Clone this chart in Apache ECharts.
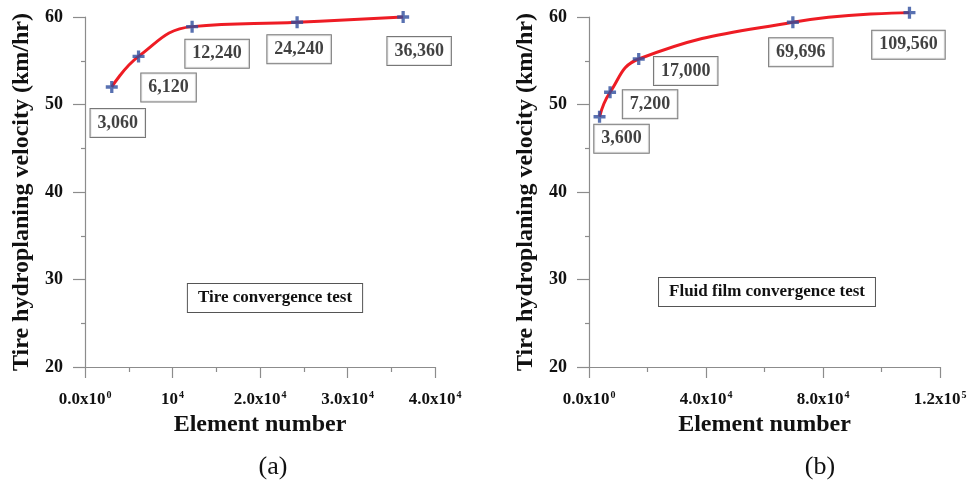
<!DOCTYPE html>
<html>
<head>
<meta charset="utf-8">
<style>
html,body{margin:0;padding:0;background:#fff;}
#chart{width:973px;height:487px;}
</style>
<script src="https://cdn.jsdelivr.net/npm/echarts@6/dist/echarts.min.js"></script>
</head>
<body>
<div id="chart"></div>
<script>
// ---------- data ----------
const tireElements = [3060, 6120, 12240, 24240, 36360];
const tireVelocity = [52.0, 55.5, 58.9, 59.4, 60.0];
const fluidElements = [3600, 7200, 17000, 69696, 109560];
const fluidVelocity = [48.6, 51.4, 55.2, 59.4, 60.5];

const yTicks = [20, 30, 40, 50, 60];
const xTicksA = [0, 10000, 20000, 30000, 40000];
const xTickLabelsA = ['0.0x10^0', '10^4', '2.0x10^4', '3.0x10^4', '4.0x10^4'];
const xTicksB = [0, 40000, 80000, 120000];
const xTickLabelsB = ['0.0x10^0', '4.0x10^4', '8.0x10^4', '1.2x10^5'];

const yAxisTitle = 'Tire hydroplaning velocity (km/hr)';
const xAxisTitle = 'Element number';
const noteA = 'Tire convergence test';
const noteB = 'Fluid film convergence test';
const panelA = '(a)';
const panelB = '(b)';

// ---------- style / layout ----------
const labelOffsetsA = [[6, 36], [30, 31], [25, 27], [2, 27], [16, 34]];
const labelOffsetsB = [[22, 22], [40, 12], [47, 12], [8, 30], [-1, 32]];
const SERIF = '"Liberation Serif","Times New Roman",serif';
const RED = '#ee1c24';
const BLUE = '#2e4d9e';
const AXIS = '#8c8c8c';
const PLUS = 'path://M4,0H7V4H11V7H7V11H4V7H0V4H4Z';

function fmtThousands(v) {
  return String(v).replace(/\B(?=(\d{3})+(?!\d))/g, ',');
}
function tickFormatter(ticks, labels) {
  return function (v) {
    const i = ticks.indexOf(v);
    if (i < 0) return '';
    const parts = labels[i].split('^');
    return '{b|' + parts[0] + '}{s|' + parts[1] + '}';
  };
}
const richTick = {
  b: { fontFamily: SERIF, fontWeight: 'bold', fontSize: 17, color: '#111' },
  s: { fontFamily: SERIF, fontWeight: 'bold', fontSize: 10, color: '#111', padding: [0, 0, 9, 1] }
};

function xAxisCfg(gridIndex, max, interval, ticks, labels) {
  return {
    type: 'value', gridIndex: gridIndex, min: 0, max: max, interval: interval,
    name: xAxisTitle, nameLocation: 'middle', nameGap: 38,
    nameTextStyle: { fontFamily: SERIF, fontWeight: 'bold', fontSize: 24, color: '#111' },
    axisLine: { show: true, onZero: false, lineStyle: { color: AXIS, width: 1.2 } },
    axisTick: { show: true, inside: false, length: 11, lineStyle: { color: AXIS, width: 1.2 } },
    minorTick: { show: true, splitNumber: 2, length: 5, lineStyle: { color: AXIS, width: 1.2 } },
    splitLine: { show: false },
    axisLabel: { margin: 23, formatter: tickFormatter(ticks, labels), rich: richTick }
  };
}
function yAxisCfg(gridIndex) {
  return {
    type: 'value', gridIndex: gridIndex, min: 20, max: 60, interval: 10,
    name: yAxisTitle, nameLocation: 'middle', nameGap: 51, nameRotate: 90,
    nameTextStyle: { fontFamily: SERIF, fontWeight: 'bold', fontSize: 24, color: '#111' },
    axisLine: { show: true, onZero: false, lineStyle: { color: AXIS, width: 1.2 } },
    axisTick: { show: true, inside: false, length: 12, lineStyle: { color: AXIS, width: 1.2 } },
    minorTick: { show: true, splitNumber: 2, length: 4, lineStyle: { color: AXIS, width: 1.2 } },
    splitLine: { show: false },
    axisLabel: {
      margin: 22, fontFamily: SERIF, fontWeight: 'bold', fontSize: 18, color: '#111',
      formatter: function (v) { return yTicks.indexOf(v) >= 0 ? String(v) : ''; }
    }
  };
}
function lineSeries(idx, xs, ys) {
  return {
    type: 'line', xAxisIndex: idx, yAxisIndex: idx, smooth: 0.45,
    showSymbol: false, clip: false,
    data: xs.map((x, i) => [x, ys[i]]),
    lineStyle: { color: RED, width: 3 }, z: 2, silent: true
  };
}
function markerSeries(idx, xs, ys, offsets) {
  return {
    type: 'scatter', xAxisIndex: idx, yAxisIndex: idx, clip: false,
    symbol: PLUS, symbolSize: 12, itemStyle: { color: BLUE },
    data: xs.map((x, i) => ({
      value: [x, ys[i]],
      label: { offset: offsets[i] }
    })),
    label: {
      show: true, position: 'inside',
      formatter: p => fmtThousands(p.value[0]),
      fontFamily: SERIF, fontWeight: 'bold', fontSize: 18, color: '#111',
      backgroundColor: '#fff', borderColor: '#555', borderWidth: 1,
      padding: [4, 7, 3, 7], lineHeight: 21
    },
    z: 3
  };
}
function boxedNote(text, cx, cy) {
  return {
    type: 'text', x: cx, y: cy, z: 10,
    style: {
      text: text, font: 'bold 17px ' + SERIF, fill: '#111',
      backgroundColor: '#fff', borderColor: '#555', borderWidth: 1,
      padding: [6, 10, 5, 10], align: 'center', verticalAlign: 'middle'
    }
  };
}
function panelText(text, cx, cy) {
  return {
    type: 'text', x: cx, y: cy, z: 10,
    style: { text: text, font: '26px ' + SERIF, fill: '#111', align: 'center', verticalAlign: 'middle' }
  };
}

const chart = echarts.init(document.getElementById('chart'), null, { renderer: 'canvas' });
chart.setOption({
  backgroundColor: '#fff',
  animation: false,
  grid: [
    { left: 85, top: 17, width: 350, height: 350 },
    { left: 589, top: 17, width: 351, height: 350 }
  ],
  xAxis: [
    xAxisCfg(0, 40000, 10000, xTicksA, xTickLabelsA),
    xAxisCfg(1, 120000, 40000, xTicksB, xTickLabelsB)
  ],
  yAxis: [yAxisCfg(0), yAxisCfg(1)],
  series: [
    lineSeries(0, tireElements, tireVelocity),
    markerSeries(0, tireElements, tireVelocity, labelOffsetsA),
    lineSeries(1, fluidElements, fluidVelocity),
    markerSeries(1, fluidElements, fluidVelocity, labelOffsetsB)
  ],
  graphic: [
    boxedNote(noteA, 275, 298),
    boxedNote(noteB, 767, 292),
    panelText(panelA, 273, 467),
    panelText(panelB, 820, 467)
  ]
});
</script>
</body>
</html>
